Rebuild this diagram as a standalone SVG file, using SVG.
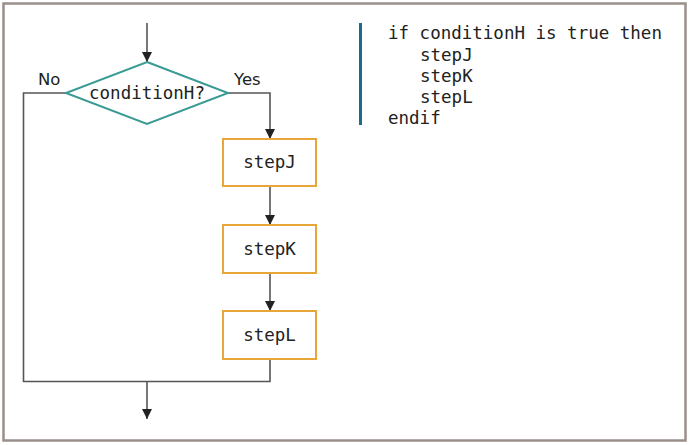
<svg xmlns="http://www.w3.org/2000/svg" width="689" height="445" viewBox="0 0 689 445">
<style>
.mono{font-family:"DejaVu Sans Mono","Liberation Mono",monospace;font-size:17.5px;fill:#222}
.lbl{font-family:"DejaVu Sans","Liberation Sans",sans-serif;font-size:16.5px;fill:#222}
.ln{stroke:#555;stroke-width:1.6;fill:none}
.box{fill:#fff;stroke:#e8a53a;stroke-width:2}
</style>
<defs>
<marker id="ah" viewBox="0 0 10 14" refX="10" refY="7" markerWidth="10" markerHeight="14" markerUnits="userSpaceOnUse" orient="auto">
<path d="M0,2 L10,7 L0,12 Z" fill="#222"/>
</marker>
</defs>
<rect x="0" y="0" width="689" height="445" fill="#fff"/>
<rect x="3.5" y="3.5" width="682" height="437" fill="#fff" stroke="#9a8f8a" stroke-width="2.5"/>
<g id="connectors">
<line class="ln" x1="147" y1="23" x2="147" y2="62" marker-end="url(#ah)"/>
<polyline class="ln" points="228,93 270,93 270,139" marker-end="url(#ah)"/>
<line class="ln" x1="270" y1="186" x2="270" y2="225" marker-end="url(#ah)"/>
<line class="ln" x1="270" y1="273" x2="270" y2="311" marker-end="url(#ah)"/>
<polyline class="ln" points="66,93 23.5,93 23.5,381.5 270,381.5 270,359"/>
<line class="ln" x1="147" y1="381.5" x2="147" y2="419" marker-end="url(#ah)"/>
<text class="lbl" x="38" y="85">No</text>
<text class="lbl" x="234" y="85">Yes</text>
</g>
<g id="conditionH">
<polygon points="147,62 228,93 147,124 66,93" fill="#fff" stroke="#3a9a94" stroke-width="2"/>
<text class="mono" x="147" y="99" text-anchor="middle">conditionH?</text>
</g>
<g id="stepJ">
<rect class="box" x="223" y="139" width="93" height="47"/>
<text class="mono" x="269.5" y="168" text-anchor="middle">stepJ</text>
</g>
<g id="stepK">
<rect class="box" x="223" y="225" width="93" height="48"/>
<text class="mono" x="269.5" y="255" text-anchor="middle">stepK</text>
</g>
<g id="stepL">
<rect class="box" x="223" y="311" width="93" height="48"/>
<text class="mono" x="269.5" y="341" text-anchor="middle">stepL</text>
</g>
<g id="pseudocode">
<line x1="360.5" y1="23" x2="360.5" y2="125" stroke="#1a6b8f" stroke-width="3"/>
<text class="mono" x="388" y="39">if conditionH is true then</text>
<text class="mono" x="420" y="61">stepJ</text>
<text class="mono" x="420" y="82">stepK</text>
<text class="mono" x="420" y="103">stepL</text>
<text class="mono" x="388" y="124">endif</text>
</g>
</svg>
